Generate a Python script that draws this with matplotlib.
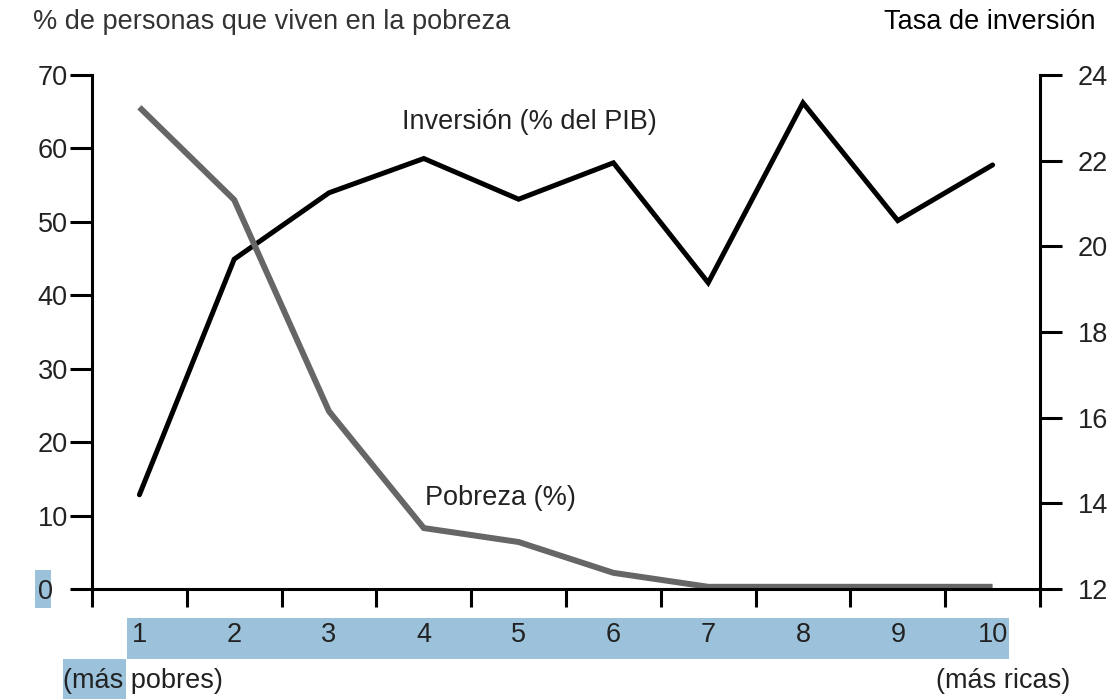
import matplotlib
matplotlib.use("Agg")
import matplotlib.pyplot as plt
from matplotlib.patches import Rectangle

plt.rcParams['font.family'] = ['Liberation Sans', 'DejaVu Sans']

# datos (deciles de países, de más pobres a más ricos)
deciles = [1, 2, 3, 4, 5, 6, 7, 8, 9, 10]
decil_labels = ['1', '2', '3', '4', '5', '6', '7', '8', '9', '10']
pobreza = [65.6, 53.0, 24.2, 8.3, 6.4, 2.2, 0.3, 0.3, 0.3, 0.3]
inversion = [14.2, 19.7, 21.25, 22.05, 21.1, 21.95, 19.15, 23.35, 20.6, 21.9]

left_ticks = [0, 10, 20, 30, 40, 50, 60, 70]
right_ticks = [12, 14, 16, 18, 20, 22, 24]

W, H = 1119, 699
fs = 19.5
txt = '#222222'
blue = '#9bc2da'

fig = plt.figure(figsize=(W / 100, H / 100), dpi=100)
ax = fig.add_axes([92 / W, 1 - 589 / H, (1040 - 92) / W, (589 - 75) / H])
ax2 = ax.twinx()

# línea de pobreza por encima de la de inversión
ax.set_zorder(ax2.get_zorder() + 1)
ax.patch.set_visible(False)
ax2.patch.set_visible(False)

ax2.plot(deciles, inversion, color='black', lw=3.6, solid_joinstyle='miter',
         solid_capstyle='round')
ax.plot(deciles, pobreza, color='#666666', lw=4.3, solid_joinstyle='miter',
        solid_capstyle='butt')

ax.set_xlim(0.5, 10.5)
ax.set_ylim(0, 70)
ax2.set_ylim(12, 24)

# eje X: marcas en los bordes, etiquetas en el centro
ax.set_xticks([d - 0.5 for d in deciles] + [10.5])
ax.set_xticklabels([])
ax.set_xticks(deciles, minor=True)
ax.set_xticklabels(decil_labels, minor=True)
ax.tick_params(axis='x', which='major', direction='out', length=13, width=2.2,
               color='black')
ax.tick_params(axis='x', which='minor', length=0, pad=24, labelsize=fs,
               labelcolor=txt)

# etiquetas del eje izquierdo alineadas a la izquierda
ax.set_yticks(left_ticks)
ax.tick_params(axis='y', direction='out', length=16, width=2.2, pad=23,
               labelsize=fs, labelcolor=txt)
for lab in ax.get_yticklabels():
    lab.set_horizontalalignment('left')
ax2.set_yticks(right_ticks)
ax2.tick_params(axis='y', direction='out', length=16, width=2.2, pad=11,
                labelsize=fs, labelcolor=txt)

for s in ['top', 'right']:
    ax.spines[s].set_visible(False)
for s in ['top', 'left', 'bottom']:
    ax2.spines[s].set_visible(False)
for a in [ax, ax2]:
    for s in a.spines.values():
        s.set_linewidth(2.2)
        s.set_color('black')

# rótulos de las series
ax.text(3.77, 63.6, 'Inversión (% del PIB)', fontsize=fs, color=txt, va='center')
ax.text(4.01, 12.4, 'Pobreza (%)', fontsize=fs, color=txt, va='center')

# títulos de los ejes
fig.text(33 / W, 1 - 22 / H, '% de personas que viven en la pobreza',
         fontsize=fs, color='#333333', va='center', ha='left')
fig.text(1095 / W, 1 - 22 / H, 'Tasa de inversión', fontsize=fs, color='black',
         va='center', ha='right')

fig.text(63 / W, 1 - 681 / H, '(más pobres)', fontsize=fs, color=txt,
         va='center', ha='left')
fig.text(1070 / W, 1 - 681 / H, '(más ricas)', fontsize=fs, color=txt,
         va='center', ha='right')

# recuadros azules de resaltado
for x0, y0, x1, y1 in [(127, 618, 1009, 659), (63, 659, 126, 699), (35, 570, 51, 608)]:
    fig.add_artist(Rectangle((x0 / W, 1 - y1 / H), (x1 - x0) / W, (y1 - y0) / H,
                             transform=fig.transFigure, facecolor=blue,
                             edgecolor='none', zorder=-1))

fig.savefig('out.png', dpi=100)
